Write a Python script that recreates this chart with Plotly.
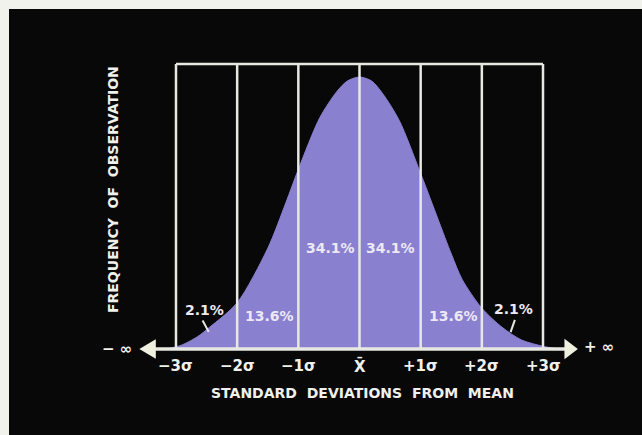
import plotly.graph_objects as go

# ---- data ----
sigma_ticks = [-3, -2, -1, 0, 1, 2, 3]
tick_labels = ["−3σ", "−2σ", "−1σ", "X̄", "+1σ", "+2σ", "+3σ"]

band_labels = ["2.1%", "13.6%", "34.1%", "34.1%", "13.6%", "2.1%"]
band_label_x = [-2.53, -1.47, -0.48, 0.50, 1.53, 2.52]
band_label_y = [0.145, 0.121, 0.371, 0.371, 0.121, 0.147]

# relative frequency curve (peak = 1)
curve_x = [-3.15, -2.9, -2.65, -2.45, -2.0, -1.5, -1.2, -1.0, -0.65, -0.375, -0.2, 0.0,
           0.2, 0.375, 0.65, 1.0, 1.5, 1.68, 2.0, 2.33, 2.65, 3.0, 3.25]
curve_y = [0.0, 0.015, 0.045, 0.08, 0.17, 0.37, 0.54, 0.66, 0.85, 0.945, 0.985, 1.0,
           0.985, 0.94, 0.84, 0.645, 0.35, 0.255, 0.15, 0.08, 0.033, 0.01, 0.0]

frame_top = 1.048

PURPLE = "rgb(138,128,208)"
LINE = "rgb(232,232,226)"
TEXT = "rgb(240,240,236)"
BG = "rgb(8,8,8)"
EDGE = "rgb(242,242,236)"
FONT = "DejaVu Sans"

W, H = 642, 435
X0_PX, X_SCALE = 359.5, 61.17   # pixel of mean, pixels per sigma
Y0_PX, Y_SCALE = 349.0, 272.0   # pixel of baseline, pixels per unit

fig = go.Figure()
fig.add_trace(go.Scatter(
    x=curve_x, y=curve_y, mode="lines",
    line=dict(shape="spline", smoothing=0.8, color=PURPLE, width=1),
    fill="tozeroy", fillcolor=PURPLE, hoverinfo="skip", showlegend=False))

# vertical sigma lines and frame
for s in sigma_ticks:
    fig.add_shape(type="line", x0=s, x1=s, y0=0, y1=frame_top,
                  line=dict(color=LINE, width=2.5))
fig.add_shape(type="line", x0=sigma_ticks[0], x1=sigma_ticks[-1],
              y0=frame_top, y1=frame_top, line=dict(color=LINE, width=2.5))

# baseline with arrows
fig.add_shape(type="line", x0=-3.4, x1=3.4, y0=0, y1=0,
              line=dict(color=LINE, width=3.5))
fig.add_shape(type="path", path="M -3.60,0 L -3.33,0.036 L -3.33,-0.036 Z",
              fillcolor="rgb(240,240,225)", line=dict(width=0))
fig.add_shape(type="path", path="M 3.57,0 L 3.35,0.038 L 3.35,-0.038 Z",
              fillcolor="rgb(240,240,225)", line=dict(width=0))

# tick labels
for s, t in zip(sigma_ticks, tick_labels):
    fig.add_annotation(x=s, y=-0.0625, text=t, showarrow=False,
                       font=dict(family=FONT, size=15, color=TEXT, weight="bold"))

# band percentages
for x, y, t in zip(band_label_x, band_label_y, band_labels):
    fig.add_annotation(x=x, y=y, text=t, showarrow=False,
                       font=dict(family=FONT, size=14, color="rgb(236,233,245)",
                                 weight="bold"))

# pointers from the 2.1% labels to the tails
fig.add_shape(type="line", x0=band_label_x[0] - 0.035, y0=band_label_y[0] - 0.04,
              x1=band_label_x[0] + 0.065, y1=band_label_y[0] - 0.082,
              line=dict(color=LINE, width=2))
fig.add_shape(type="line", x0=band_label_x[-1] + 0.02, y0=band_label_y[-1] - 0.04,
              x1=band_label_x[-1] - 0.05, y1=band_label_y[-1] - 0.085,
              line=dict(color=LINE, width=2))

# infinity labels
fig.add_annotation(x=-3.964, y=0.0, text="−\u00a0∞", showarrow=False,
                   font=dict(family=FONT, size=15, color=TEXT, weight="bold"))
fig.add_annotation(x=3.915, y=0.007, text="+\u00a0∞", showarrow=False,
                   font=dict(family=FONT, size=15, color=TEXT, weight="bold"))

# axis titles
fig.add_annotation(x=0.057, y=-0.162,
                   text="STANDARD\u00a0\u00a0DEVIATIONS\u00a0\u00a0FROM\u00a0\u00a0MEAN",
                   showarrow=False,
                   font=dict(family=FONT, size=14, color=TEXT, weight="bold"))
fig.add_annotation(x=-4.03, y=0.588,
                   text="FREQUENCY\u00a0\u00a0OF\u00a0\u00a0OBSERVATION",
                   showarrow=False, textangle=-90,
                   font=dict(family=FONT, size=14, color=TEXT, weight="bold"))

# light scan edges at top and left
fig.add_shape(type="rect", xref="paper", yref="paper", x0=-0.01, x1=1.01,
              y0=1 - 9 / H, y1=1.01, fillcolor=EDGE, line=dict(width=0))
fig.add_shape(type="rect", xref="paper", yref="paper", x0=-0.01, x1=9 / W,
              y0=-0.01, y1=1.01, fillcolor=EDGE, line=dict(width=0))

fig.update_layout(
    width=W, height=H, autosize=False,
    margin=dict(l=0, r=0, t=0, b=0),
    paper_bgcolor=BG, plot_bgcolor=BG,
    xaxis=dict(range=[-X0_PX / X_SCALE, (W - X0_PX) / X_SCALE],
               visible=False, fixedrange=True),
    yaxis=dict(range=[-(H - Y0_PX) / Y_SCALE, Y0_PX / Y_SCALE],
               visible=False, fixedrange=True),
    showlegend=False,
    hovermode=False,
)

fig.write_html("out.html",
               config={"displayModeBar": False, "staticPlot": True},
               post_script="document.body.style.margin='0';"
                           "document.body.style.background='#080808';")
